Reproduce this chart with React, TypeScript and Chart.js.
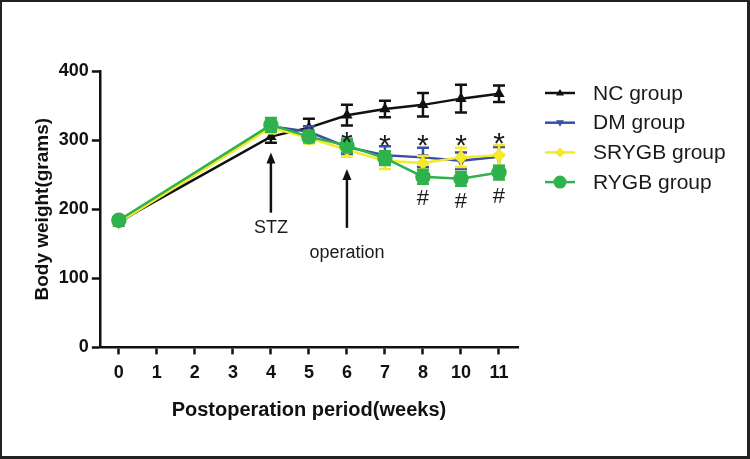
import React, { useEffect, useRef } from 'react';
import { Chart, registerables } from 'chart.js';

Chart.register(...registerables);

// ---------- data ----------
const weeks = ['0', '1', '2', '3', '4', '5', '6', '7', '8', '10', '11'];
const seriesNames = ['NC group', 'DM group', 'SRYGB group', 'RYGB group'];
const ncValues = [182, null, null, null, 305, 318, 336, 345, 351, 360, 367];
const ncErrors = [4, null, null, null, 9, 13, 15, 12, 17, 20, 12];
const dmValues = [180, null, null, null, 320, 312, 290, 278, 275, 270, 276];
const dmErrors = [4, null, null, null, 8, 8, 10, 13, 14, 12, 14];
const srygbValues = [181, null, null, null, 318, 303, 286, 270, 267, 275, 278];
const srygbErrors = [4, null, null, null, 8, 8, 10, 12, 10, 14, 15];
const rygbValues = [184, null, null, null, 322, 305, 292, 274, 247, 244, 253];
const rygbErrors = [4, null, null, null, 10, 8, 10, 10, 10, 10, 10];
const yMin = 0;
const yMax = 400;
const yStep = 100;

const starWeeks = ['6', '7', '8', '10', '11'];
const starValues = [307, 303, 303, 303, 306];
const hashWeeks = ['8', '10', '11'];
const hashValues = [217, 213, 221];
const arrowWeeks = ['4', '6'];
const arrowTipValues = [282, 258];
const arrowTailValues = [195, 173];
const arrowLabels = ['STZ', 'operation'];
const arrowLabelValues = [173, 137];

// ---------- styles ----------
const FONT = '"Liberation Sans", Arial, Helvetica, sans-serif';
const colors = ['#111111', '#3a4ea3', '#f5ea2a', '#2fb24b'];
const pointStyles = ['triangle', 'triangle', 'rectRot', 'circle'];
const pointRotations = [0, 180, 0, 0];
const pointRadii = [4, 4, 5, 6.5];
const drawOrders = [3, 2, 1, 0];

const errorBarPlugin = {
  id: 'errorBars',
  afterDatasetDraw(chart: any, args: any) {
    const ds = chart.data.datasets[args.index];
    const errs: (number | null)[] = ds.errors;
    if (!errs) return;
    const yScale = chart.scales.y;
    const ctx = chart.ctx;
    ctx.save();
    ctx.strokeStyle = ds.borderColor;
    ctx.lineWidth = 2.5;
    args.meta.data.forEach((pt: any, i: number) => {
      const v = ds.data[i];
      const e = errs[i];
      if (v == null || e == null) return;
      const x = pt.x;
      const yt = yScale.getPixelForValue(v + e);
      const yb = yScale.getPixelForValue(v - e);
      ctx.beginPath();
      ctx.moveTo(x, yt);
      ctx.lineTo(x, yb);
      ctx.moveTo(x - 6, yt);
      ctx.lineTo(x + 6, yt);
      ctx.moveTo(x - 6, yb);
      ctx.lineTo(x + 6, yb);
      ctx.stroke();
    });
    ctx.restore();
  },
};

const annotationPlugin = {
  id: 'annotations',
  afterDatasetsDraw(chart: any) {
    const ctx = chart.ctx;
    const xs = chart.scales.x;
    const ys = chart.scales.y;
    const xOf = (w: string) => xs.getPixelForValue(weeks.indexOf(w));
    ctx.save();
    ctx.fillStyle = '#1a1a1a';
    ctx.strokeStyle = '#111111';
    ctx.textAlign = 'center';
    // asterisks
    const starSize = 30;
    ctx.font = `${starSize}px ${FONT}`;
    ctx.textBaseline = 'alphabetic';
    starWeeks.forEach((w, i) => {
      ctx.fillText('*', xOf(w), ys.getPixelForValue(starValues[i]) + 0.57 * starSize);
    });
    // hashes
    const hashSize = 22;
    ctx.font = `${hashSize}px ${FONT}`;
    hashWeeks.forEach((w, i) => {
      ctx.fillText('#', xOf(w), ys.getPixelForValue(hashValues[i]) + 0.36 * hashSize);
    });
    // arrows + labels
    arrowWeeks.forEach((w, i) => {
      const x = xOf(w);
      const yTip = ys.getPixelForValue(arrowTipValues[i]);
      const yTail = ys.getPixelForValue(arrowTailValues[i]);
      ctx.lineWidth = 2.5;
      ctx.beginPath();
      ctx.moveTo(x, yTip + 8);
      ctx.lineTo(x, yTail);
      ctx.stroke();
      ctx.beginPath();
      ctx.moveTo(x, yTip);
      ctx.lineTo(x - 4.5, yTip + 11);
      ctx.lineTo(x + 4.5, yTip + 11);
      ctx.closePath();
      ctx.fillStyle = '#111111';
      ctx.fill();
      ctx.fillStyle = '#1a1a1a';
      ctx.font = `18px ${FONT}`;
      ctx.textBaseline = 'middle';
      ctx.fillText(arrowLabels[i], x, ys.getPixelForValue(arrowLabelValues[i]));
    });
    ctx.restore();
  },
};

const legendPlugin = {
  id: 'customLegend',
  afterDraw(chart: any) {
    const ctx = chart.ctx;
    const area = chart.chartArea;
    const x0 = area.right + 27;
    const x1 = x0 + 30;
    const yStart = 93;
    const gap = 29.7;
    ctx.save();
    seriesNames.forEach((name, i) => {
      const y = yStart + i * gap;
      ctx.strokeStyle = colors[i];
      ctx.lineWidth = 2.5;
      ctx.beginPath();
      ctx.moveTo(x0, y);
      ctx.lineTo(x1, y);
      ctx.stroke();
      const cx = (x0 + x1) / 2;
      ctx.fillStyle = colors[i];
      ctx.beginPath();
      const r = pointRadii[i];
      if (pointStyles[i] === 'circle') {
        ctx.arc(cx, y, r, 0, Math.PI * 2);
      } else if (pointStyles[i] === 'rectRot') {
        ctx.moveTo(cx, y - r);
        ctx.lineTo(cx + r, y);
        ctx.lineTo(cx, y + r);
        ctx.lineTo(cx - r, y);
        ctx.closePath();
      } else {
        const dir = pointRotations[i] === 180 ? -1 : 1;
        ctx.moveTo(cx, y - dir * r);
        ctx.lineTo(cx + r, y + dir * r * 0.6);
        ctx.lineTo(cx - r, y + dir * r * 0.6);
        ctx.closePath();
      }
      ctx.fill();
      ctx.fillStyle = '#1a1a1a';
      ctx.font = `21px ${FONT}`;
      ctx.textAlign = 'left';
      ctx.textBaseline = 'middle';
      ctx.fillText(name, x1 + 18, y + 1);
    });
    ctx.restore();
  },
};

const framePlugin = {
  id: 'frame',
  beforeDraw(chart: any) {
    const ctx = chart.ctx;
    ctx.save();
    ctx.fillStyle = '#ffffff';
    ctx.fillRect(0, 0, chart.width, chart.height);
    ctx.restore();
  },
  afterDraw(chart: any) {
    const ctx = chart.ctx;
    const w = chart.width;
    const h = chart.height;
    ctx.save();
    ctx.fillStyle = '#222222';
    ctx.fillRect(0, 0, w, 2);
    ctx.fillRect(0, 0, 2, h);
    ctx.fillRect(w - 3, 0, 3, h);
    ctx.fillRect(0, h - 3, w, 3);
    ctx.restore();
  },
};

export default function App() {
  const canvasRef = useRef<HTMLCanvasElement | null>(null);

  useEffect(() => {
    if (!canvasRef.current) return;
    const valueSets = [ncValues, dmValues, srygbValues, rygbValues];
    const errorSets = [ncErrors, dmErrors, srygbErrors, rygbErrors];
    const datasets: any[] = seriesNames.map((name, i) => ({
      label: name,
      data: valueSets[i],
      errors: errorSets[i],
      borderColor: colors[i],
      backgroundColor: colors[i],
      pointBackgroundColor: colors[i],
      pointBorderColor: colors[i],
      pointStyle: pointStyles[i],
      rotation: pointRotations[i],
      pointRadius: pointRadii[i],
      borderWidth: 2.5,
      tension: 0,
      spanGaps: true,
      order: drawOrders[i],
    }));

    const chart = new Chart(canvasRef.current, {
      type: 'line',
      data: { labels: weeks, datasets },
      plugins: [framePlugin, errorBarPlugin, annotationPlugin, legendPlugin],
      options: {
        animation: false,
        responsive: false,
        maintainAspectRatio: false,
        layout: { padding: { top: 71, left: 17, right: 232, bottom: 37 } },
        plugins: { legend: { display: false }, tooltip: { enabled: false } },
        scales: {
          x: {
            type: 'category',
            offset: true,
            grid: {
              display: true,
              offset: false,
              drawOnChartArea: false,
              drawTicks: true,
              tickLength: 7,
              tickWidth: 2.5,
              tickColor: '#111111',
            },
            border: { display: true, width: 2.5, color: '#111111' },
            ticks: {
              color: '#111111',
              font: { family: FONT, size: 18, weight: 'bold' },
              padding: 8,
              maxRotation: 0,
              autoSkip: false,
            },
            title: {
              display: true,
              text: 'Postoperation period(weeks)',
              color: '#111111',
              font: { family: FONT, size: 20, weight: 'bold' },
              padding: { top: 6, bottom: 0 },
            },
          },
          y: {
            min: yMin,
            max: yMax,
            grid: {
              display: true,
              drawOnChartArea: false,
              drawTicks: true,
              tickLength: 8,
              tickWidth: 2.5,
              tickColor: '#111111',
            },
            border: { display: true, width: 2.5, color: '#111111' },
            ticks: {
              stepSize: yStep,
              color: '#111111',
              font: { family: FONT, size: 18, weight: 'bold' },
              padding: 3,
            },
            title: {
              display: true,
              text: 'Body weight(grams)',
              color: '#111111',
              font: { family: FONT, size: 19, weight: 'bold' },
              padding: { top: 14, bottom: 2 },
            },
          },
        },
      } as any,
    });
    return () => chart.destroy();
  }, []);

  return (
    <div style={{ position: 'absolute', left: 0, top: 0, width: 750, height: 459 }}>
      <canvas ref={canvasRef} width={750} height={459} style={{ display: 'block', width: 750, height: 459 }} />
    </div>
  );
}
